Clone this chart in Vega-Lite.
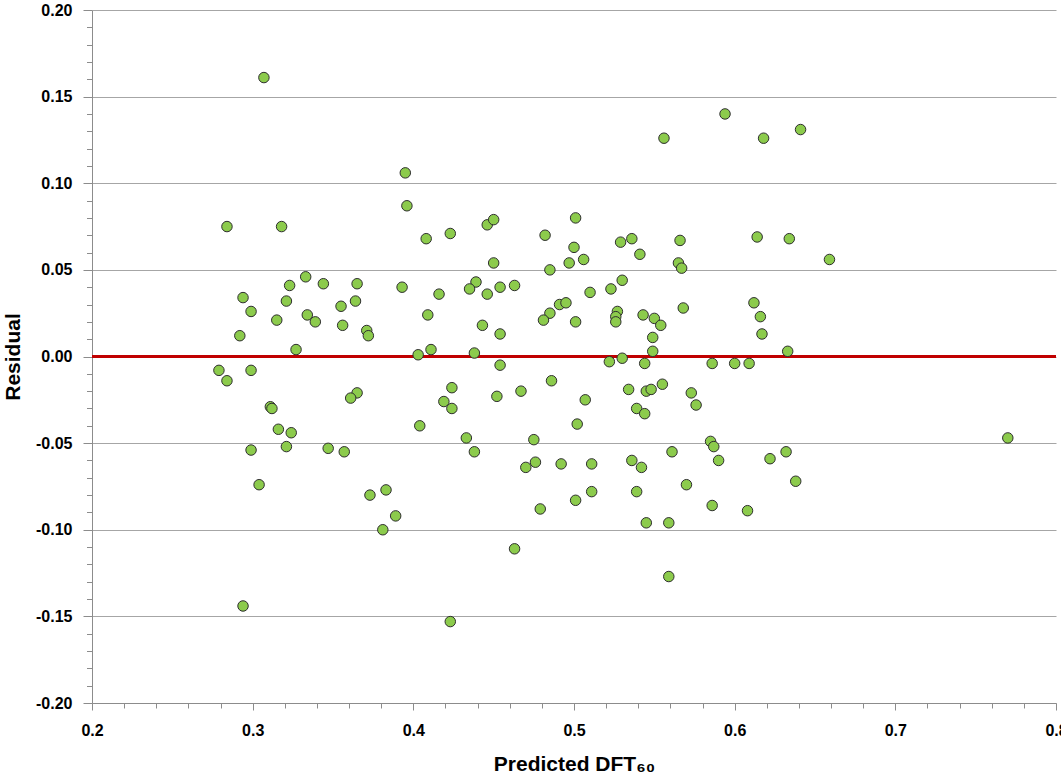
{
  "$schema": "https://vega.github.io/schema/vega-lite/v6.json",
  "width": 964,
  "height": 693,
  "autosize": {"type": "none"},
  "padding": {"left": 92, "top": 10, "right": 5, "bottom": 73},
  "background": "white",
  "config": {
    "view": {"stroke": null},
    "axis": {
      "labelFont": "Liberation Sans",
      "labelFontWeight": "bold",
      "labelFontSize": 16,
      "labelColor": "#000000",
      "labelFlush": false,
      "labelOverlap": false,
      "titleFont": "Liberation Sans",
      "titleFontWeight": "bold",
      "titleFontSize": 21,
      "titleColor": "#000000",
      "domainColor": "#8C8C8C",
      "tickColor": "#8C8C8C",
      "domainWidth": 1,
      "tickWidth": 1
    }
  },
  "data": {
    "values": [
      {"predicted": 0.307, "residual": 0.161},
      {"predicted": 0.395, "residual": 0.106},
      {"predicted": 0.396, "residual": 0.087},
      {"predicted": 0.284, "residual": 0.075},
      {"predicted": 0.318, "residual": 0.075},
      {"predicted": 0.408, "residual": 0.068},
      {"predicted": 0.423, "residual": 0.071},
      {"predicted": 0.446, "residual": 0.076},
      {"predicted": 0.450, "residual": 0.079},
      {"predicted": 0.450, "residual": 0.054},
      {"predicted": 0.333, "residual": 0.046},
      {"predicted": 0.323, "residual": 0.041},
      {"predicted": 0.344, "residual": 0.042},
      {"predicted": 0.365, "residual": 0.042},
      {"predicted": 0.393, "residual": 0.040},
      {"predicted": 0.416, "residual": 0.036},
      {"predicted": 0.439, "residual": 0.043},
      {"predicted": 0.435, "residual": 0.039},
      {"predicted": 0.446, "residual": 0.036},
      {"predicted": 0.454, "residual": 0.040},
      {"predicted": 0.294, "residual": 0.034},
      {"predicted": 0.321, "residual": 0.032},
      {"predicted": 0.364, "residual": 0.032},
      {"predicted": 0.299, "residual": 0.026},
      {"predicted": 0.315, "residual": 0.021},
      {"predicted": 0.334, "residual": 0.024},
      {"predicted": 0.339, "residual": 0.020},
      {"predicted": 0.355, "residual": 0.029},
      {"predicted": 0.356, "residual": 0.018},
      {"predicted": 0.409, "residual": 0.024},
      {"predicted": 0.443, "residual": 0.018},
      {"predicted": 0.454, "residual": 0.013},
      {"predicted": 0.371, "residual": 0.015},
      {"predicted": 0.372, "residual": 0.012},
      {"predicted": 0.292, "residual": 0.012},
      {"predicted": 0.327, "residual": 0.004},
      {"predicted": 0.403, "residual": 0.001},
      {"predicted": 0.411, "residual": 0.004},
      {"predicted": 0.438, "residual": 0.002},
      {"predicted": 0.279, "residual": -0.008},
      {"predicted": 0.299, "residual": -0.008},
      {"predicted": 0.284, "residual": -0.014},
      {"predicted": 0.454, "residual": -0.005},
      {"predicted": 0.424, "residual": -0.018},
      {"predicted": 0.365, "residual": -0.021},
      {"predicted": 0.361, "residual": -0.024},
      {"predicted": 0.419, "residual": -0.026},
      {"predicted": 0.424, "residual": -0.030},
      {"predicted": 0.452, "residual": -0.023},
      {"predicted": 0.311, "residual": -0.029},
      {"predicted": 0.312, "residual": -0.030},
      {"predicted": 0.316, "residual": -0.042},
      {"predicted": 0.324, "residual": -0.044},
      {"predicted": 0.404, "residual": -0.040},
      {"predicted": 0.433, "residual": -0.047},
      {"predicted": 0.299, "residual": -0.054},
      {"predicted": 0.321, "residual": -0.052},
      {"predicted": 0.347, "residual": -0.053},
      {"predicted": 0.357, "residual": -0.055},
      {"predicted": 0.438, "residual": -0.055},
      {"predicted": 0.304, "residual": -0.074},
      {"predicted": 0.373, "residual": -0.080},
      {"predicted": 0.383, "residual": -0.077},
      {"predicted": 0.389, "residual": -0.092},
      {"predicted": 0.381, "residual": -0.100},
      {"predicted": 0.294, "residual": -0.144},
      {"predicted": 0.423, "residual": -0.153},
      {"predicted": 0.594, "residual": 0.140},
      {"predicted": 0.556, "residual": 0.126},
      {"predicted": 0.618, "residual": 0.126},
      {"predicted": 0.641, "residual": 0.131},
      {"predicted": 0.501, "residual": 0.080},
      {"predicted": 0.482, "residual": 0.070},
      {"predicted": 0.500, "residual": 0.063},
      {"predicted": 0.529, "residual": 0.066},
      {"predicted": 0.536, "residual": 0.068},
      {"predicted": 0.566, "residual": 0.067},
      {"predicted": 0.614, "residual": 0.069},
      {"predicted": 0.634, "residual": 0.068},
      {"predicted": 0.541, "residual": 0.059},
      {"predicted": 0.659, "residual": 0.056},
      {"predicted": 0.497, "residual": 0.054},
      {"predicted": 0.506, "residual": 0.056},
      {"predicted": 0.485, "residual": 0.050},
      {"predicted": 0.565, "residual": 0.054},
      {"predicted": 0.567, "residual": 0.051},
      {"predicted": 0.463, "residual": 0.041},
      {"predicted": 0.530, "residual": 0.044},
      {"predicted": 0.523, "residual": 0.039},
      {"predicted": 0.510, "residual": 0.037},
      {"predicted": 0.491, "residual": 0.030},
      {"predicted": 0.495, "residual": 0.031},
      {"predicted": 0.485, "residual": 0.025},
      {"predicted": 0.481, "residual": 0.021},
      {"predicted": 0.501, "residual": 0.020},
      {"predicted": 0.527, "residual": 0.026},
      {"predicted": 0.526, "residual": 0.023},
      {"predicted": 0.526, "residual": 0.020},
      {"predicted": 0.543, "residual": 0.024},
      {"predicted": 0.550, "residual": 0.022},
      {"predicted": 0.554, "residual": 0.018},
      {"predicted": 0.549, "residual": 0.011},
      {"predicted": 0.568, "residual": 0.028},
      {"predicted": 0.612, "residual": 0.031},
      {"predicted": 0.616, "residual": 0.023},
      {"predicted": 0.617, "residual": 0.013},
      {"predicted": 0.633, "residual": 0.003},
      {"predicted": 0.549, "residual": 0.003},
      {"predicted": 0.530, "residual": -0.001},
      {"predicted": 0.522, "residual": -0.003},
      {"predicted": 0.544, "residual": -0.004},
      {"predicted": 0.586, "residual": -0.004},
      {"predicted": 0.600, "residual": -0.004},
      {"predicted": 0.609, "residual": -0.004},
      {"predicted": 0.486, "residual": -0.014},
      {"predicted": 0.467, "residual": -0.020},
      {"predicted": 0.534, "residual": -0.019},
      {"predicted": 0.545, "residual": -0.020},
      {"predicted": 0.548, "residual": -0.019},
      {"predicted": 0.555, "residual": -0.016},
      {"predicted": 0.573, "residual": -0.021},
      {"predicted": 0.576, "residual": -0.028},
      {"predicted": 0.507, "residual": -0.025},
      {"predicted": 0.539, "residual": -0.030},
      {"predicted": 0.544, "residual": -0.033},
      {"predicted": 0.502, "residual": -0.039},
      {"predicted": 0.475, "residual": -0.048},
      {"predicted": 0.585, "residual": -0.049},
      {"predicted": 0.587, "residual": -0.052},
      {"predicted": 0.561, "residual": -0.055},
      {"predicted": 0.632, "residual": -0.055},
      {"predicted": 0.590, "residual": -0.060},
      {"predicted": 0.622, "residual": -0.059},
      {"predicted": 0.476, "residual": -0.061},
      {"predicted": 0.470, "residual": -0.064},
      {"predicted": 0.492, "residual": -0.062},
      {"predicted": 0.511, "residual": -0.062},
      {"predicted": 0.536, "residual": -0.060},
      {"predicted": 0.542, "residual": -0.064},
      {"predicted": 0.570, "residual": -0.074},
      {"predicted": 0.638, "residual": -0.072},
      {"predicted": 0.511, "residual": -0.078},
      {"predicted": 0.539, "residual": -0.078},
      {"predicted": 0.501, "residual": -0.083},
      {"predicted": 0.479, "residual": -0.088},
      {"predicted": 0.586, "residual": -0.086},
      {"predicted": 0.608, "residual": -0.089},
      {"predicted": 0.545, "residual": -0.096},
      {"predicted": 0.559, "residual": -0.096},
      {"predicted": 0.463, "residual": -0.111},
      {"predicted": 0.559, "residual": -0.127},
      {"predicted": 0.770, "residual": -0.047}
    ]
  },
  "layer": [
    {
      "data": {"values": [{}]},
      "mark": {"type": "rule", "color": "#C00000", "strokeWidth": 3},
      "encoding": {
        "x": {
          "datum": 0.2,
          "type": "quantitative",
          "scale": {"domain": [0.2, 0.8], "nice": false, "zero": false},
          "axis": {
            "orient": "bottom",
            "values": [0.22, 0.24, 0.26, 0.28, 0.32, 0.34, 0.36, 0.38, 0.42, 0.44, 0.46, 0.48, 0.52, 0.54, 0.56, 0.58, 0.62, 0.64, 0.66, 0.68, 0.72, 0.74, 0.76, 0.78],
            "tickSize": 5,
            "labels": false,
            "domain": false,
            "grid": false,
            "title": null
          }
        },
        "x2": {"datum": 0.8},
        "y": {
          "datum": 0,
          "type": "quantitative",
          "scale": {"domain": [-0.2, 0.2], "nice": false, "zero": false},
          "axis": {
            "orient": "left",
            "values": [-0.19, -0.18, -0.17, -0.16, -0.14, -0.13, -0.12, -0.11, -0.09, -0.08, -0.07, -0.06, -0.04, -0.03, -0.02, -0.01, 0.01, 0.02, 0.03, 0.04, 0.06, 0.07, 0.08, 0.09, 0.11, 0.12, 0.13, 0.14, 0.16, 0.17, 0.18, 0.19],
            "tickSize": 5.5,
            "labels": false,
            "domain": false,
            "grid": false,
            "title": null
          }
        }
      }
    },
    {
      "mark": {
        "type": "point",
        "shape": "circle",
        "filled": true,
        "size": 110,
        "fill": "#8CCB4C",
        "fillOpacity": 1,
        "stroke": "#2E2E2E",
        "strokeWidth": 1,
        "opacity": 1
      },
      "encoding": {
        "x": {
          "field": "predicted",
          "type": "quantitative",
          "scale": {"domain": [0.2, 0.8], "nice": false, "zero": false},
          "axis": {
            "orient": "bottom",
            "values": [0.2, 0.3, 0.4, 0.5, 0.6, 0.7, 0.8],
            "format": ".1f",
            "tickSize": 7,
            "labelPadding": 12,
            "grid": false,
            "title": "Predicted DFT₆₀",
            "titlePadding": 15
          }
        },
        "y": {
          "field": "residual",
          "type": "quantitative",
          "scale": {"domain": [-0.2, 0.2], "nice": false, "zero": false},
          "axis": {
            "orient": "left",
            "values": [-0.2, -0.15, -0.1, -0.05, 0, 0.05, 0.1, 0.15, 0.2],
            "labelExpr": "replace(format(datum.value, '.2f'), '−', '-')",
            "tickSize": 9,
            "labelPadding": 11,
            "grid": true,
            "gridColor": "#A6A6A6",
            "gridWidth": 1,
            "title": "Residual",
            "titlePadding": 12
          }
        }
      }
    }
  ],
  "resolve": {"axis": {"x": "independent", "y": "independent"}}
}
